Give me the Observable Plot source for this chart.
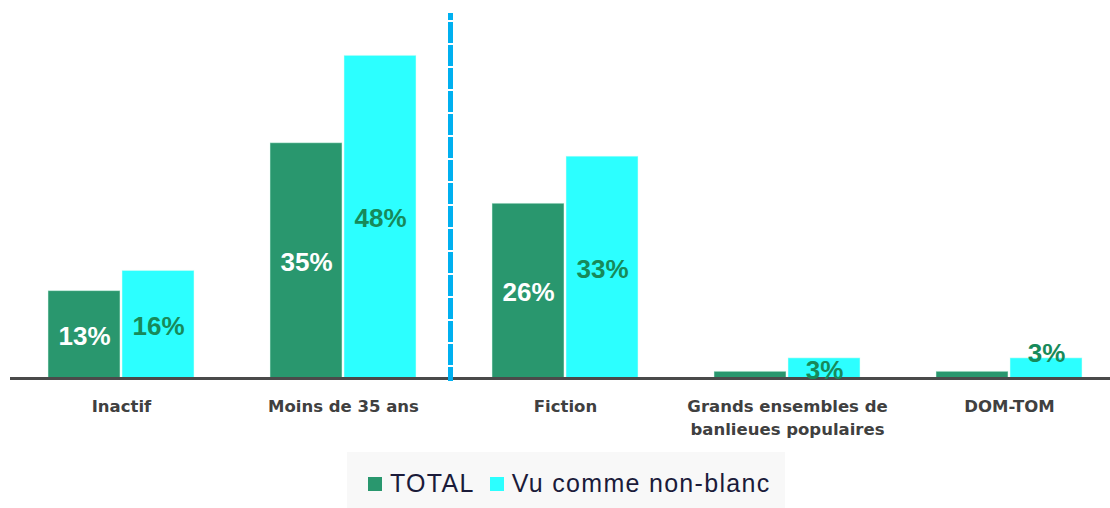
<!DOCTYPE html>
<html>
<head>
<meta charset="utf-8">
<script src="https://cdn.jsdelivr.net/npm/d3@7"></script>
<script src="https://cdn.jsdelivr.net/npm/@observablehq/plot@0.6"></script>
<style>
  html, body { margin: 0; padding: 0; background: #fff; }
  #chart svg { display: block; }
  .legend {
    margin-left: 347px; width: 438px; height: 56px; background: #f8f8f8;
    display: flex; align-items: center; font-family: "Liberation Sans", Arial, sans-serif;
    font-size: 25px; color: #1b1b3a; box-sizing: border-box; padding-left: 21px; padding-top: 7px;
    letter-spacing: 1.3px; white-space: nowrap; overflow: hidden;
  }
  .legend .sw { width: 14px; height: 14px; display: inline-block; margin-right: 8px; flex: none; }
  .legend .item { display: flex; align-items: center; margin-right: 15px; flex: none; }
</style>
</head>
<body>
<div id="chart"></div>
<script>
const categories = ["Inactif", "Moins de 35 ans", "Fiction", "Grands ensembles de\nbanlieues populaires", "DOM-TOM"];
const series = ["TOTAL", "Vu comme non-blanc"];
const totalValues = [13, 35, 26, 1, 1];
const nonBlancValues = [16, 48, 33, 3, 3];
const colors = ["#29976e", "#2cffff"];
const labelColors = ["#ffffff", "#178a5a"];

const data = [];
categories.forEach((c, i) => {
  data.push({cat: c, series: series[0], value: totalValues[i]});
  data.push({cat: c, series: series[1], value: nonBlancValues[i]});
});
const labeled = data.filter(d => d.value >= 2);
const lastCat = categories[categories.length - 1];
const insideLabels = labeled.filter(d => d.cat !== lastCat);
const aboveLabels = labeled.filter(d => d.cat === lastCat);

const labelOpts = {
  fx: "cat", x: "series",
  text: d => d.value + "%",
  fill: d => labelColors[series.indexOf(d.series)],
  fontSize: 26, fontWeight: "bold",
  fontFamily: "'Liberation Sans', Arial, sans-serif"
};

const chart = Plot.plot({
  width: 1110,
  height: 452,
  marginTop: 15,
  marginBottom: 74,
  marginLeft: 0,
  marginRight: 0,
  style: {fontFamily: "'DejaVu Sans', sans-serif", background: "#fff"},
  fx: {domain: categories, range: [9.5, 1119.5], padding: 0},
  x: {domain: series, paddingInner: 0.03, paddingOuter: 0.51, axis: null},
  y: {domain: [0, 54], axis: null},
  color: {domain: series, range: colors},
  marks: [
    Plot.barY(data, {fx: "cat", x: "series", y: "value", fill: "series", stroke: "#e6fff6", strokeOpacity: 0.5, strokeWidth: 1}),
    Plot.ruleY([0], {stroke: "#4a4a4a", strokeWidth: 3}),
    Plot.frame({anchor: "left", fx: categories[2], stroke: "#00b0f0", strokeWidth: 5, strokeDasharray: "16,7", strokeDashoffset: 14, dx: -4}),
    Plot.text(insideLabels, {...labelOpts, y: d => d.value / 2, dy: 2}),
    Plot.text(aboveLabels, {...labelOpts, y: "value", dy: -5}),
    Plot.axisFx({anchor: "bottom", tickSize: 0, tickPadding: 17, fontSize: 16.5, fontWeight: "bold", fill: "#404040", lineHeight: 1.4, label: null})
  ]
});
document.getElementById("chart").appendChild(chart);

const legend = document.createElement("div");
legend.className = "legend";
series.forEach((s, i) => {
  const item = document.createElement("span");
  item.className = "item";
  const sw = document.createElement("span");
  sw.className = "sw";
  sw.style.background = colors[i];
  item.appendChild(sw);
  item.appendChild(document.createTextNode(s));
  legend.appendChild(item);
});
document.body.appendChild(legend);
</script>
</body>
</html>
